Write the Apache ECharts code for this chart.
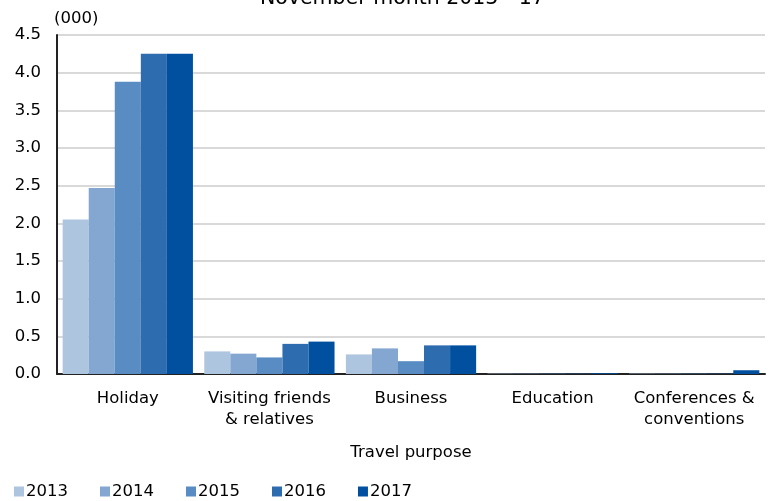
<!DOCTYPE html>
<html><head><meta charset="utf-8">
<script src="https://cdn.jsdelivr.net/npm/echarts@6/dist/echarts.min.js"></script>
<style>html,body{margin:0;padding:0;background:#fff}#c{width:769px;height:501px}</style>
</head><body><div id="c"></div>
<script>
const categories = ['Holiday', 'Visiting friends\n& relatives', 'Business', 'Education', 'Conferences &\nconventions'];
const years = ['2013', '2014', '2015', '2016', '2017'];
const v2013 = [2.05, 0.30, 0.26, 0.005, 0.005];
const v2014 = [2.47, 0.27, 0.34, 0.005, 0.005];
const v2015 = [3.88, 0.22, 0.17, 0.005, 0.005];
const v2016 = [4.25, 0.40, 0.38, 0.005, 0.005];
const v2017 = [4.25, 0.43, 0.38, 0.01, 0.05];
const yTicks = [0, 0.5, 1.0, 1.5, 2.0, 2.5, 3.0, 3.5, 4.0, 4.5];
const colors = ['#adc5df', '#83a7d0', '#588cc2', '#2e6cb0', '#01509f'];
const seriesData = [v2013, v2014, v2015, v2016, v2017];
const font = 'DejaVu Sans, Liberation Sans, Arial, sans-serif';
const fs = 16.5;
const chart = echarts.init(document.getElementById('c'));
chart.setOption({
  animation: false,
  title: { text: 'November month 2013 - 17', left: 255, top: -17,
    textStyle: { fontFamily: font, fontSize: 20.5, fontWeight: 'normal', color: '#000' } },
  grid: { left: 57, right: 4, top: 35, bottom: 127 },
  legend: { left: 9, top: 478, itemWidth: 10, itemHeight: 10, itemGap: 32,
    icon: 'rect', data: years,
    textStyle: { fontFamily: font, fontSize: fs, color: '#000', padding: [0,0,0,-3] } },
  xAxis: { type: 'category', data: categories,
    name: 'Travel purpose', nameLocation: 'middle', nameGap: 70,
    nameTextStyle: { fontFamily: font, fontSize: fs, color: '#000' },
    axisLine: { lineStyle: { color: '#222', width: 2 } },
    axisTick: { show: false },
    axisLabel: { interval: 0, fontFamily: font, fontSize: fs, color: '#000', margin: 14, lineHeight: 21 } },
  yAxis: { type: 'value', min: 0, max: 4.5, interval: 0.5,
    name: '(000)', nameGap: 8, nameTextStyle: { fontFamily: font, fontSize: fs, color: '#000', align: 'left', padding: [0,0,0,-3] },
    axisLine: { show: true, lineStyle: { color: '#222', width: 2 } },
    axisTick: { show: false },
    splitLine: { lineStyle: { color: '#d9d9d9', width: 2 } },
    axisLabel: { fontFamily: font, fontSize: fs, color: '#000', margin: 16,
      formatter: v => yTicks.includes(v) ? v.toFixed(1) : '' } },
  series: seriesData.map((d, i) => ({
    name: years[i], type: 'bar', data: d, barGap: '0%', barCategoryGap: '8%',
    itemStyle: { color: colors[i] }
  }))
});
</script></body></html>
